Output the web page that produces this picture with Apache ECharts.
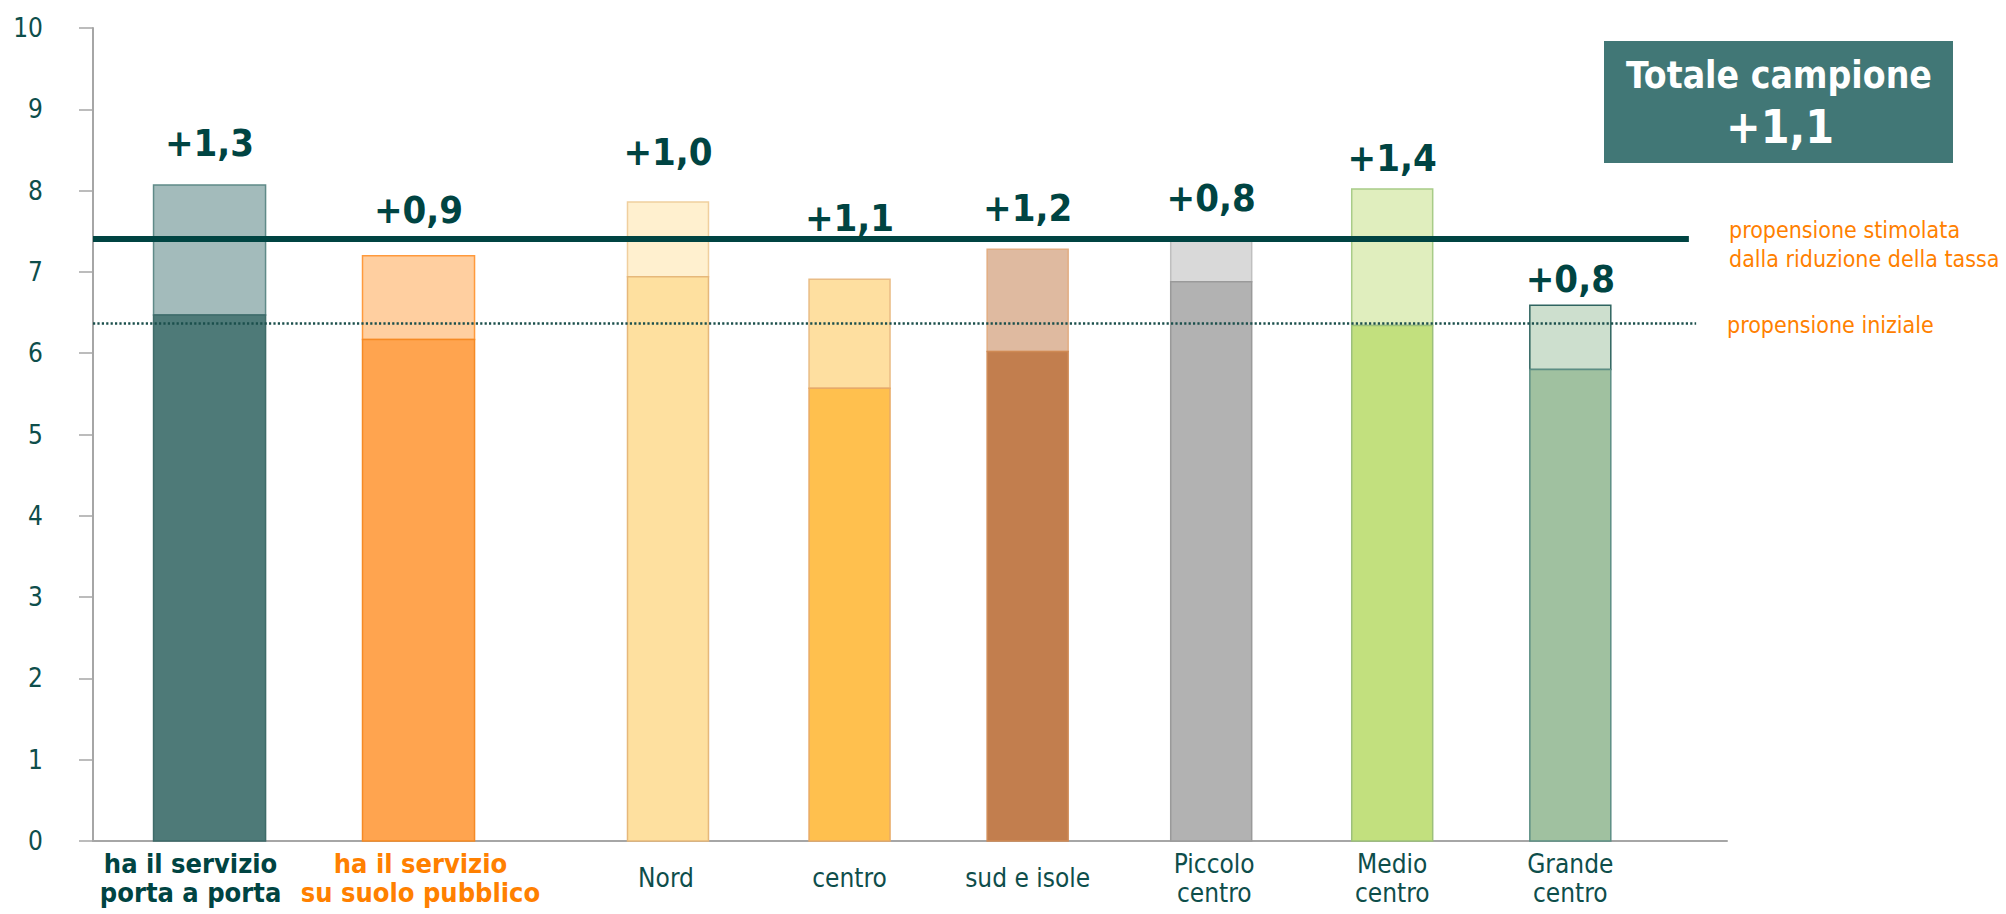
<!DOCTYPE html>
<html>
<head>
<meta charset="utf-8">
<script src="https://cdn.jsdelivr.net/npm/echarts@6/dist/echarts.min.js"></script>
<style>
  html, body { margin: 0; padding: 0; background: #fff; }
  #chart { width: 2006px; height: 914px; }
</style>
</head>
<body>
<div id="chart"></div>
<script>
// --- data ---
const categories = ['ha il servizio\nporta a porta', 'ha il servizio\nsu suolo pubblico', 'Nord', 'centro', 'sud e isole', 'Piccolo\ncentro', 'Medio\ncentro', 'Grande\ncentro']
const initialValues = [6.47, 6.17, 6.94, 5.57, 6.02, 6.88, 6.34, 5.80]
const stimulatedValues = [8.07, 7.20, 7.86, 6.91, 7.28, 7.40, 8.02, 6.59]
const deltaLabels = ['+1,3', '+0,9', '+1,0', '+1,1', '+1,2', '+0,8', '+1,4', '+0,8']
const avgStimulated = 7.41
const avgInitial = 6.37
const totalTitle = 'Totale campione'
const totalDelta = '+1,1'
const lineNames = ['propensione stimolata\ndalla riduzione della tassa', 'propensione iniziale']

// --- layout / style ---
const slotX = [0.642, 1.793, 3.167, 4.167, 5.148, 6.159, 7.156, 8.137]
const barW = [0.617, 0.617, 0.446, 0.446, 0.446, 0.446, 0.446, 0.446]
const labelLift = [42, 46, 50, 61, 41, 41, 31, 26]
const nameShift = [-19, 2, -2, 0, 0, 3, 0, 0]
const lightColors = ['#a3bbbb', '#ffcfa0', '#fff0cf', '#fedfa0', '#dfbaa0', '#d9d9d9', '#e0eebe', '#cddfce']
const lightBorders = ['#5f8a88', '#ff9a3c', '#f0cf9e', '#e9bc85', '#e2ad82', '#bfbfbf', '#a8cc88', '#2f6460']
const darkColors = ['#4e7a78', '#ffa44f', '#fee09f', '#ffc04e', '#c27e4e', '#b2b2b2', '#c2e07e', '#a0c1a0']
const darkBorders = ['#3e6b69', '#f58a25', '#e6b87a', '#e8aa66', '#cf8a55', '#9a9a9a', '#9cc07a', '#5c8e84']
const nameColors = ['#004442', '#ff8000', '#0e4e4b', '#0e4e4b', '#0e4e4b', '#0e4e4b', '#0e4e4b', '#0e4e4b']
const nameWeights = ['bold', 'bold', 'normal', 'normal', 'normal', 'normal', 'normal', 'normal']
const FONT = "'DejaVu Sans Condensed', 'DejaVu Sans', sans-serif"
const TEAL = '#004442'

const chart = echarts.init(document.getElementById('chart'), null, { renderer: 'svg' })

function renderBar (params, api) {
    const i = params.dataIndex
    const x = api.value(0)
    const base = api.coord([x, 0])
    const initTop = api.coord([x, api.value(1)])
    const stimTop = api.coord([x, api.value(2)])
    const w = api.size([barW[i], 0])[0]
    return {
        type: 'group',
        children: [
            {
                type: 'rect',
                shape: { x: base[0] - w / 2, y: stimTop[1], width: w, height: initTop[1] - stimTop[1] },
                style: { fill: lightColors[i], stroke: lightBorders[i], lineWidth: 1.5 }
            },
            {
                type: 'rect',
                shape: { x: base[0] - w / 2, y: initTop[1], width: w, height: base[1] - initTop[1] },
                style: { fill: darkColors[i], stroke: darkBorders[i], lineWidth: 1.5 }
            },
            {
                type: 'text',
                style: {
                    text: deltaLabels[i],
                    x: base[0],
                    y: stimTop[1] - labelLift[i],
                    fill: TEAL,
                    fontFamily: FONT,
                    fontWeight: 'bold',
                    fontSize: 38,
                    align: 'center',
                    verticalAlign: 'middle'
                }
            },
            {
                type: 'text',
                style: {
                    text: categories[i],
                    x: base[0] + nameShift[i],
                    y: base[1] + 37,
                    fill: nameColors[i],
                    fontFamily: FONT,
                    fontWeight: nameWeights[i],
                    fontSize: nameWeights[i] === 'bold' ? 27 : 26,
                    lineHeight: 29,
                    align: 'center',
                    verticalAlign: 'middle'
                }
            }
        ]
    }
}

const barData = categories.map((c, i) => [slotX[i], initialValues[i], stimulatedValues[i]])

const option = {
    animation: false,
    grid: { left: 93, right: 279, top: 28, bottom: 73 },
    xAxis: {
        type: 'value',
        min: 0,
        max: 9,
        axisLine: { show: true, lineStyle: { color: '#a6a6a6', width: 2 } },
        axisTick: { show: false },
        axisLabel: { show: false },
        splitLine: { show: false }
    },
    yAxis: {
        type: 'value',
        min: 0,
        max: 10,
        interval: 1,
        axisLine: { show: true, lineStyle: { color: '#a6a6a6', width: 2 } },
        axisTick: { show: true, length: 14, lineStyle: { color: '#a6a6a6', width: 1.5 } },
        axisLabel: { color: '#0e4e4b', fontFamily: FONT, fontSize: 26, margin: 50 },
        splitLine: { show: false }
    },
    series: [
        {
            type: 'custom',
            z: 2,
            renderItem: renderBar,
            data: barData,
            clip: false
        },
        {
            type: 'line',
            z: 5,
            data: [],
            markLine: {
                silent: true,
                symbol: 'none',
                label: { show: false },
                data: [
                    [{ coord: [0, avgStimulated], lineStyle: { color: TEAL, width: 6, type: 'solid' } },
                        { coord: [8.79, avgStimulated] }],
                    [{ coord: [0, avgInitial], lineStyle: { color: '#1b4f4c', width: 2.5, type: [2.2, 2.2] } },
                        { coord: [8.83, avgInitial] }]
                ]
            }
        }
    ],
    graphic: [
        {
            type: 'rect',
            left: 1604,
            top: 41,
            shape: { width: 349, height: 122 },
            style: { fill: '#417776' }
        },
        {
            type: 'text',
            x: 1779,
            y: 75,
            style: { text: totalTitle, fill: '#fff', fontFamily: FONT, fontWeight: 'bold', fontSize: 37, align: 'center', verticalAlign: 'middle' }
        },
        {
            type: 'text',
            x: 1780,
            y: 127,
            style: { text: totalDelta, fill: '#fff', fontFamily: FONT, fontWeight: 'bold', fontSize: 46, align: 'center', verticalAlign: 'middle' }
        },
        {
            type: 'text',
            x: 1729,
            y: 244,
            style: { text: lineNames[0], fill: '#ff8000', fontFamily: FONT, fontSize: 23, lineHeight: 29, align: 'left', verticalAlign: 'middle' }
        },
        {
            type: 'text',
            x: 1727,
            y: 325,
            style: { text: lineNames[1], fill: '#ff8000', fontFamily: FONT, fontSize: 23, align: 'left', verticalAlign: 'middle' }
        }
    ]
}

chart.setOption(option)
</script>
</body>
</html>
